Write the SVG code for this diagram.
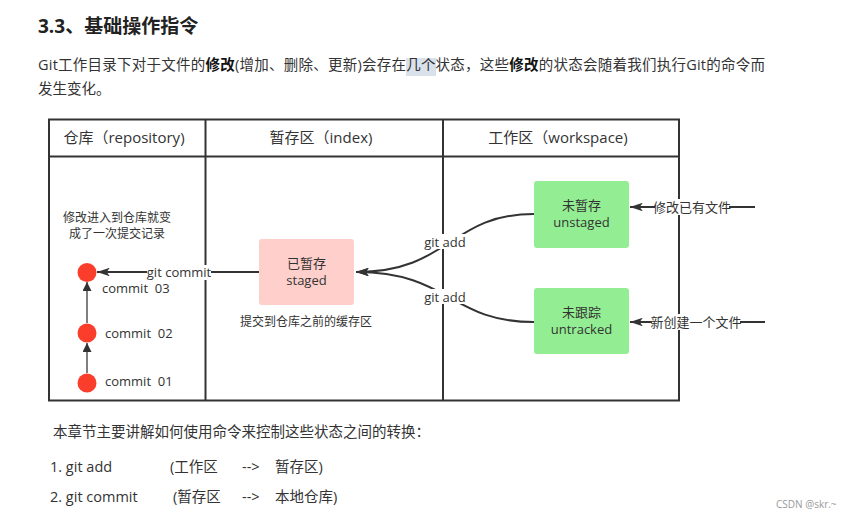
<svg xmlns="http://www.w3.org/2000/svg" width="855" height="520" viewBox="0 0 855 520">
<style>
text{font-family:"Open Sans","Noto Sans CJK SC",sans-serif;fill:#333}
.title{font-size:19px;font-weight:bold;fill:#222}
.para{font-size:14.5px;fill:#333}
.hdr{font-size:15px;text-anchor:middle}
.box{font-size:13px;text-anchor:middle}
.note{font-size:12px;text-anchor:middle}
.lbl{font-size:13px;text-anchor:middle}
.cm{font-size:13px;white-space:pre}
.grid{stroke:#333;stroke-width:2;fill:none}
.conn{stroke:#333;stroke-width:2;fill:none}
.thin{stroke:#555;stroke-width:1.5;fill:none}
.bg{fill:#fff}
</style>
<defs>
<marker id="ah" viewBox="0 0 12 8" refX="12" refY="4" markerWidth="6.5" markerHeight="4.3" orient="auto" markerUnits="strokeWidth"><path d="M0,0L12,4L0,8L3,4Z" fill="#333"/></marker>
<marker id="ahs" viewBox="0 0 10 10" refX="10" refY="5" markerWidth="6" markerHeight="6" orient="auto" markerUnits="strokeWidth"><path d="M0,0L10,5L0,10Z" fill="#333"/></marker>
</defs>
<rect width="855" height="520" fill="#fff"/>
<g id="heading">
<text class="title" x="38" y="33">3.3、基础操作指令</text>
<rect x="406" y="58" width="30" height="18" fill="#d9e1ea"/>
<text class="para" x="38" y="70" textLength="727" lengthAdjust="spacing">Git工作目录下对于文件的<tspan font-weight="bold" fill="#111">修改</tspan>(增加、删除、更新)会存在几个状态，这些<tspan font-weight="bold" fill="#111">修改</tspan>的状态会随着我们执行Git的命令而</text>
<text class="para" x="38" y="94">发生变化。</text>
</g>
<g id="table">
<rect class="grid" x="49" y="119.5" width="630" height="281"/>
<line class="grid" x1="49" y1="156.5" x2="679" y2="156.5"/>
<line class="grid" x1="205.5" y1="119.5" x2="205.5" y2="400.5"/>
<line class="grid" x1="443" y1="119.5" x2="443" y2="400.5"/>
<text class="hdr" x="124" y="143">仓库（repository)</text>
<text class="hdr" x="321" y="143">暂存区（index)</text>
<text class="hdr" x="558" y="143">工作区（workspace)</text>
</g>
<g id="connectors">
<path class="conn" d="M534,214 C450,214 450,272 356,272" marker-end="url(#ah)"/>
<path class="conn" d="M534,322 C450,322 450,272 356,272" marker-end="url(#ah)"/>
<path class="conn" d="M259,272 L97,272" marker-end="url(#ah)"/>
<path class="conn" d="M755,207 L630,207" marker-end="url(#ah)"/>
<path class="conn" d="M765,322 L630,322" marker-end="url(#ah)"/>
<path class="thin" d="M87,373 L87,343" marker-end="url(#ahs)"/>
<path class="thin" d="M87,323 L87,282" marker-end="url(#ahs)"/>
<rect class="bg" x="424" y="234" width="43" height="15"/>
<text class="lbl" x="445" y="247">git add</text>
<rect class="bg" x="424" y="289" width="43" height="15"/>
<text class="lbl" x="445" y="302">git add</text>
<rect class="bg" x="147" y="265" width="64" height="15"/>
<text class="lbl" x="179" y="277">git commit</text>
<rect class="bg" x="655" y="199" width="74" height="16"/>
<text class="lbl" x="692" y="212">修改已有文件</text>
<rect class="bg" x="652" y="314" width="88" height="16"/>
<text class="lbl" x="696" y="327">新创建一个文件</text>
</g>
<g id="staged">
<rect x="259" y="239" width="95" height="66" rx="3" fill="#ffcfcb"/>
<text class="box" x="306.5" y="268">已暂存</text>
<text class="box" x="306.5" y="285">staged</text>
</g>
<g id="unstaged">
<rect x="534" y="181" width="95" height="67" rx="3" fill="#93ee93"/>
<text class="box" x="581.5" y="210">未暂存</text>
<text class="box" x="581.5" y="227">unstaged</text>
</g>
<g id="untracked">
<rect x="534" y="288" width="95" height="66" rx="3" fill="#93ee93"/>
<text class="box" x="581.5" y="317">未跟踪</text>
<text class="box" x="581.5" y="334">untracked</text>
</g>
<g id="commit03">
<circle cx="87" cy="272.5" r="9.5" fill="#fb3e2c"/>
<text class="cm" x="102" y="293" xml:space="preserve">commit  03</text>
</g>
<g id="commit02">
<circle cx="87" cy="333" r="9.5" fill="#fb3e2c"/>
<text class="cm" x="105" y="338" xml:space="preserve">commit  02</text>
</g>
<g id="commit01">
<circle cx="87" cy="383" r="9.5" fill="#fb3e2c"/>
<text class="cm" x="105" y="386" xml:space="preserve">commit  01</text>
</g>
<g id="notes">
<text class="note" x="117" y="222">修改进入到仓库就变</text>
<text class="note" x="117" y="238">成了一次提交记录</text>
<text class="note" x="306" y="326">提交到仓库之前的缓存区</text>
</g>
<g id="summary">
<text class="para" x="53" y="437">本章节主要讲解如何使用命令来控制这些状态之间的转换：</text>
<text class="para" x="50" y="472">1. git add</text>
<text class="para" x="170" y="472">(工作区</text>
<text class="para" x="242" y="472">--&gt;</text>
<text class="para" x="275" y="472">暂存区)</text>
<text class="para" x="50" y="502">2. git commit</text>
<text class="para" x="173" y="502">(暂存区</text>
<text class="para" x="242" y="502">--&gt;</text>
<text class="para" x="275" y="502">本地仓库)</text>
<text x="776" y="508" font-size="10" style="fill:#999">CSDN @skr.~</text>
</g>
</svg>
